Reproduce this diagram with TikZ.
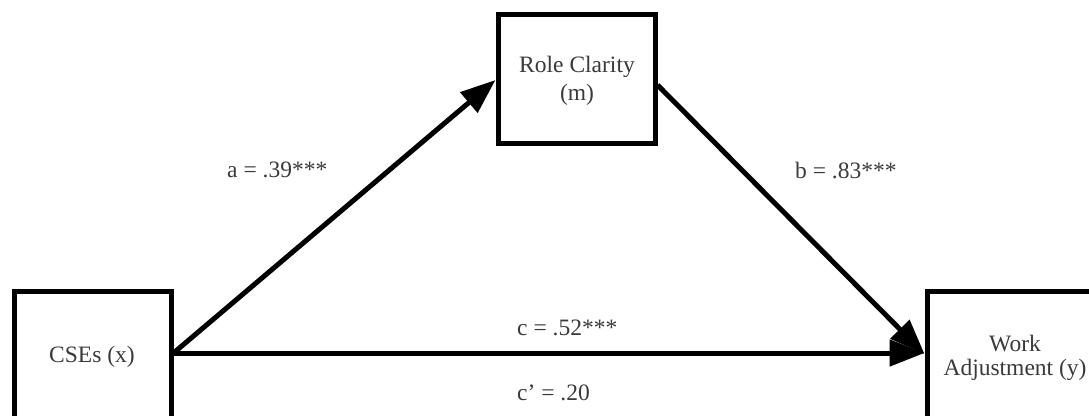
\documentclass[tikz,border=0pt]{standalone}
\usepackage{fontspec}
\setmainfont{Liberation Serif}
\usetikzlibrary{arrows.meta,calc}
\definecolor{txt}{HTML}{3A3A3A}
\begin{document}
\begin{tikzpicture}[x=1pt,y=-1pt,
  box/.style={draw=black,line width=5pt,minimum width=157pt,minimum height=129pt,inner sep=0pt,fill=white},
  lbl/.style={text=txt,font=\fontsize{23.5}{24}\selectfont,align=center,inner sep=0pt},
  conn/.style={line width=5pt,-{Triangle[length=35pt,width=26pt]}}]
\useasboundingbox (0,0) rectangle (1089,415);
\clip (0,0) rectangle (1089,415);
\node[box] (rc) at (576.5,78.5) {};
\node[box,minimum height=135pt] (cse) at (92.5,358.5) {};
\node[box,minimum height=135pt,minimum width=175pt] (wa) at (1014.5,358.5) {};
\node[lbl] (rct) at (577,81) {Role Clarity\\[4pt](m)};
\node[lbl] (cset) at (92,357) {CSEs (x)};
\node[lbl] (wat) at (1015,358) {Work\\Adjustment (y)};
\draw[conn] ([yshift=5.5pt]cse.east) -- ([yshift=5.5pt]wa.west);
\draw[conn] ([yshift=5.5pt]cse.east) -- ([yshift=-1.5pt]rc.west);
\draw[conn] ([yshift=-6.5pt]rc.east) -- ([yshift=4.5pt]wa.west);
\node[lbl,anchor=base west] (la) at (227,177) {a = .39***};
\node[lbl,anchor=base west] (lb) at (795,178) {b = .83***};
\node[lbl,anchor=base west] (lc) at (517,335) {c = .52***};
\node[lbl,anchor=base west] (lcp) at (517,400) {c’ = .20};
\end{tikzpicture}
\end{document}
